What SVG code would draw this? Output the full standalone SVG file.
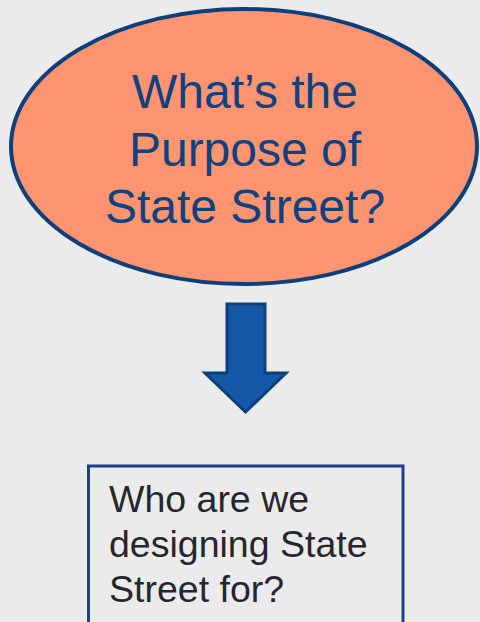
<svg xmlns="http://www.w3.org/2000/svg" width="480" height="622" viewBox="0 0 480 622">
<style>
.t1{font-family:"Liberation Sans",Arial,sans-serif;font-size:48px;fill:#0f427e;text-anchor:middle}
.t2{font-family:"Liberation Sans",Arial,sans-serif;font-size:37.5px;fill:#26262e}
</style>
<rect width="480" height="622" fill="#ebebeb"/>
<g id="purpose">
<ellipse cx="244" cy="146.5" rx="233" ry="137.5" fill="#ff9570" stroke="#0d3f7c" stroke-width="4"/>
<text class="t1" x="245" y="108">What’s the</text>
<text class="t1" x="245" y="165.5">Purpose of</text>
<text class="t1" x="245" y="223">State Street?</text>
</g>
<g id="connectors">
<polygon points="227,304 265,304 265,373 286,373 245.5,412 205,373 227,373" fill="#1558a8" stroke="#0c3f7c" stroke-width="3" stroke-linejoin="miter"/>
</g>
<g id="who">
<rect x="88.5" y="466" width="314.5" height="170" fill="#ebebeb" stroke="#1b3f8a" stroke-width="3"/>
<text class="t2" x="109" y="512">Who are we</text>
<text class="t2" x="109" y="557">designing State</text>
<text class="t2" x="109" y="602">Street for?</text>
</g>
</svg>
